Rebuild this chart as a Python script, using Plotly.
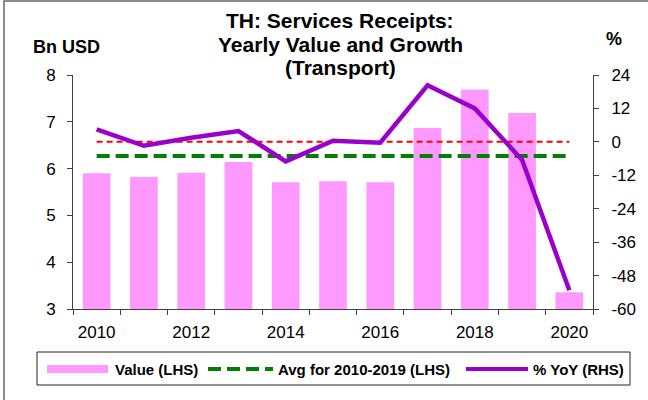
import plotly.graph_objects as go

years = [2010, 2011, 2012, 2013, 2014, 2015, 2016, 2017, 2018, 2019, 2020]
value_bn_usd = [5.90, 5.82, 5.91, 6.14, 5.71, 5.73, 5.71, 6.87, 7.69, 7.19, 3.36]
yoy_pct = [4.5, -1.4, 1.5, 3.9, -7.0, 0.4, -0.3, 20.3, 12.0, -6.5, -53.3]
avg_years = [y for y in years if y <= 2019]
avg_value = sum(v for y, v in zip(years, value_bn_usd) if y <= 2019) / len(avg_years)

left_ticks = [3, 4, 5, 6, 7, 8]
right_ticks = [-60, -48, -36, -24, -12, 0, 12, 24]
right_tick_labels = ["-60", "-48", "-36", "-24", "-12", "0", "12", "24"]
x_tick_years = [2010, 2012, 2014, 2016, 2018, 2020]

title_lines = ["TH: Services Receipts:", "Yearly Value and Growth", "(Transport)"]
legend_labels = ["Value (LHS)", "Avg for 2010-2019 (LHS)", "% YoY (RHS)"]

FONT = "Arial, Liberation Sans, sans-serif"
PINK = "#FF99FF"
GREEN = "#008000"
RED = "#FF0000"
PURPLE = "#9900CC"

W, H = 648, 400
L, R, T, B = 73, 55, 75, 91
PW = W - L - R
PH = H - T - B


def px(x):
    return (x - L) / PW


def py(y):
    return (H - B - y) / PH


fig = go.Figure()
fig.add_trace(go.Bar(x=years, y=value_bn_usd, marker=dict(color=PINK, line=dict(width=0)),
                     name=legend_labels[0], yaxis="y", showlegend=False))
fig.add_trace(go.Scatter(x=[years[0], years[-1]], y=[avg_value, avg_value], mode="lines",
                         line=dict(color=GREEN, width=4, dash="13px,6px"),
                         name=legend_labels[1], yaxis="y", showlegend=False))
fig.add_trace(go.Scatter(x=[years[0], years[-1]], y=[0, 0], mode="lines",
                         line=dict(color=RED, width=2, dash="6px,4px"),
                         yaxis="y2", showlegend=False, hoverinfo="skip"))
fig.add_trace(go.Scatter(x=years, y=yoy_pct, mode="lines",
                         line=dict(color=PURPLE, width=4.5),
                         name=legend_labels[2], yaxis="y2", showlegend=False))

axis_color = "#404040"
fig.update_layout(
    template="none",
    width=W, height=H,
    margin=dict(l=L, r=R, t=T, b=B, pad=0),
    paper_bgcolor="white", plot_bgcolor="white",
    font=dict(family=FONT, size=17, color="black"),
    bargap=0.414,
    showlegend=False,
    xaxis=dict(range=[2009.5, 2020.5], tickvals=x_tick_years, ticks="", showgrid=False,
               automargin=False,
               zeroline=False, showline=True, linecolor=axis_color, linewidth=1,
               ticklabelstandoff=8,
               minor=dict(ticks="outside", tick0=2009.5, dtick=1, ticklen=5,
                          tickcolor=axis_color, showgrid=False)),
    yaxis=dict(range=[3, 8], tickvals=left_ticks, ticks="outside", ticklen=5,
               automargin=False,
               tickcolor=axis_color, showgrid=False, zeroline=False, showline=True,
               linecolor=axis_color, linewidth=1, ticklabelstandoff=8),
    yaxis2=dict(range=[-60, 24], tickvals=right_ticks, ticktext=right_tick_labels,
                automargin=False,
                overlaying="y", side="right", ticks="outside", ticklen=5,
                tickcolor=axis_color, showgrid=False, zeroline=False, showline=True,
                linecolor=axis_color, linewidth=1, ticklabelstandoff=9),
)

annotations = []
for line, yc in zip(title_lines, [20.5, 44, 67.5]):
    annotations.append(dict(text=f"<b>{line}</b>", x=px(340), y=py(yc), xref="paper", yref="paper",
                            xanchor="center", yanchor="middle", showarrow=False,
                            font=dict(size=21, family=FONT, color="black")))
annotations.append(dict(text="<b>Bn USD</b>", x=px(66), y=py(47), xref="paper", yref="paper",
                        xanchor="center", yanchor="middle", showarrow=False,
                        font=dict(size=18, family=FONT)))
annotations.append(dict(text="<b>%</b>", x=px(613.5), y=py(38.5), xref="paper", yref="paper",
                        xanchor="center", yanchor="middle", showarrow=False,
                        font=dict(size=18, family=FONT)))
leg_y = 369
for txt, x0 in zip(legend_labels, [113, 276, 531]):
    annotations.append(dict(text=f"<b>{txt}</b>", x=px(x0), y=py(leg_y), xref="paper", yref="paper",
                            xanchor="left", yanchor="middle", showarrow=False,
                            font=dict(size=15, family=FONT)))

shapes = [
    # outer frame (cropped at right/bottom)
    dict(type="rect", xref="paper", yref="paper", x0=px(4), x1=px(720), y0=py(460), y1=py(1),
         line=dict(color="#666666", width=1.5), fillcolor="rgba(0,0,0,0)", layer="below"),
    # legend box
    dict(type="rect", xref="paper", yref="paper", x0=px(37), x1=px(630), y0=py(385), y1=py(352),
         line=dict(color="#222222", width=1), fillcolor="rgba(0,0,0,0)"),
    # legend swatches
    dict(type="rect", xref="paper", yref="paper", x0=px(47), x1=px(108), y0=py(373), y1=py(365),
         line=dict(width=0), fillcolor=PINK),
    dict(type="line", xref="paper", yref="paper", x0=px(208), x1=px(273), y0=py(leg_y), y1=py(leg_y),
         line=dict(color=GREEN, width=4, dash="13px,6px")),
    dict(type="line", xref="paper", yref="paper", x0=px(466), x1=px(528), y0=py(leg_y), y1=py(leg_y),
         line=dict(color=PURPLE, width=4)),
]
fig.update_layout(annotations=annotations, shapes=shapes)

fig.write_html("out.html",
               config={"displayModeBar": False, "staticPlot": True},
               post_script="document.body.style.margin='0';document.body.style.overflow='hidden';")
